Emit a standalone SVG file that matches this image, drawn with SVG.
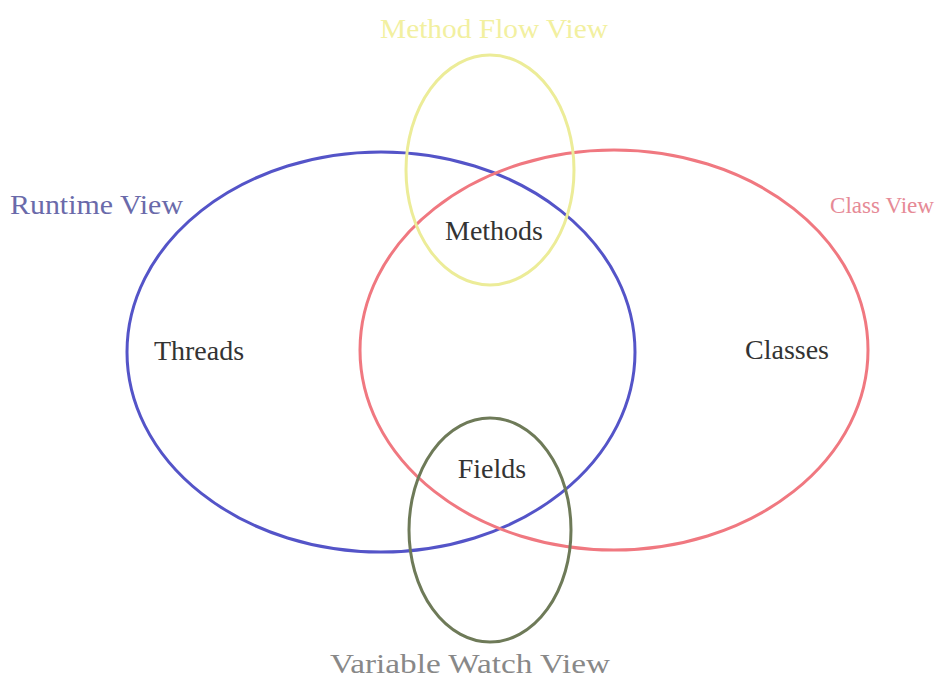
<svg xmlns="http://www.w3.org/2000/svg" width="943" height="681" viewBox="0 0 943 681">
<style>
.set{fill:none;stroke-width:3}
.lbl{font-family:"Liberation Serif","Times New Roman",serif;font-size:28px}
.node{fill:#333333;text-anchor:middle}
</style>
<rect width="943" height="681" fill="#ffffff"/>
<g id="runtime-view">
<ellipse class="set" cx="381" cy="352" rx="254" ry="200" stroke="#5454c8"/>
<text class="lbl" x="10" y="214" fill="#6a6aaa" textLength="173" lengthAdjust="spacingAndGlyphs">Runtime View</text>
</g>
<g id="class-view">
<ellipse class="set" cx="614" cy="350" rx="254" ry="200" stroke="#f07880"/>
<text class="lbl" x="830" y="213" fill="#e68a96" style="font-size:24px" textLength="104" lengthAdjust="spacingAndGlyphs">Class View</text>
</g>
<g id="method-flow-view">
<ellipse class="set" cx="490" cy="170" rx="84" ry="115" stroke="#ecec98"/>
<text class="lbl" x="494" y="38" fill="#f2f0a0" text-anchor="middle" textLength="228" lengthAdjust="spacingAndGlyphs">Method Flow View</text>
</g>
<g id="variable-watch-view">
<ellipse class="set" cx="490" cy="530" rx="81" ry="112" stroke="#6e7a58"/>
<text class="lbl" x="470" y="673" fill="#888888" text-anchor="middle" textLength="280" lengthAdjust="spacingAndGlyphs">Variable Watch View</text>
</g>
<g id="node-methods"><text class="lbl node" x="494" y="240">Methods</text></g>
<g id="node-threads"><text class="lbl node" x="199" y="360">Threads</text></g>
<g id="node-classes"><text class="lbl node" x="787" y="359">Classes</text></g>
<g id="node-fields"><text class="lbl node" x="492" y="478">Fields</text></g>
<g id="connectors"></g>
</svg>
